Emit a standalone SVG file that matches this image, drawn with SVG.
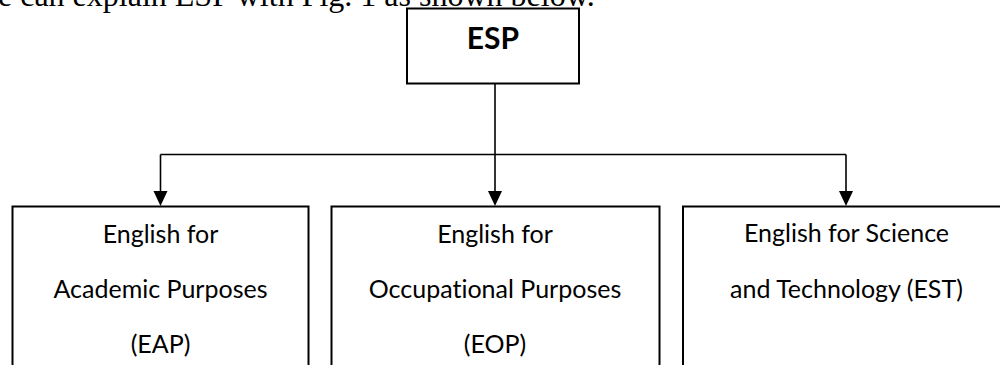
<svg xmlns="http://www.w3.org/2000/svg" width="1000" height="365" viewBox="0 0 1000 365">
  <style>
    .box { fill: #ffffff; stroke: #000000; stroke-width: 2; }
    .lbl { font-family: Lato, "Open Sans", sans-serif; font-size: 25px; fill: #000000; text-anchor: middle; font-variant-ligatures: none; }
    .title { font-family: Lato, "Open Sans", sans-serif; font-size: 30px; font-weight: bold; fill: #000000; text-anchor: middle; }
    .conn { fill: none; stroke: #000000; stroke-width: 1.6; }
    .intro { font-family: "Liberation Serif", "Times New Roman", serif; font-size: 32px; fill: #000000; }
  </style>
  <rect x="0" y="0" width="1000" height="365" fill="#ffffff"/>
  <text class="intro" x="-2" y="6">e can explain ESP with Fig. 1 as shown below.</text>

  <g id="connectors">
    <path class="conn" d="M495,84 L495,154.5"/>
    <path class="conn" d="M160.5,154.5 L846,154.5"/>
    <path class="conn" d="M160.5,154.5 L160.5,191"/>
    <path class="conn" d="M495,154.5 L495,191"/>
    <path class="conn" d="M846,154.5 L846,191"/>
    <path d="M153.5,191 L167.5,191 L160.5,206 Z" fill="#000000"/>
    <path d="M488,191 L502,191 L495,206 Z" fill="#000000"/>
    <path d="M839,191 L853,191 L846,206 Z" fill="#000000"/>
  </g>

  <g id="node-esp">
    <rect class="box" x="407" y="8.5" width="172" height="75"/>
    <text class="title" x="493" y="49">ESP</text>
  </g>

  <g id="node-eap">
    <rect class="box" x="12.5" y="206.5" width="296" height="170"/>
    <text class="lbl" x="160.5" y="243">English for</text>
    <text class="lbl" x="160.5" y="298">Academic Purposes</text>
    <text class="lbl" x="160.5" y="353">(EAP)</text>
  </g>

  <g id="node-eop">
    <rect class="box" x="331.5" y="206.5" width="328" height="170"/>
    <text class="lbl" x="495" y="243">English for</text>
    <text class="lbl" x="495" y="298">Occupational Purposes</text>
    <text class="lbl" x="495" y="353">(EOP)</text>
  </g>

  <g id="node-est">
    <rect class="box" x="683" y="206.5" width="330" height="170"/>
    <text class="lbl" x="846.5" y="242">English for Science</text>
    <text class="lbl" x="846.5" y="298">and Technology (EST)</text>
  </g>
</svg>
